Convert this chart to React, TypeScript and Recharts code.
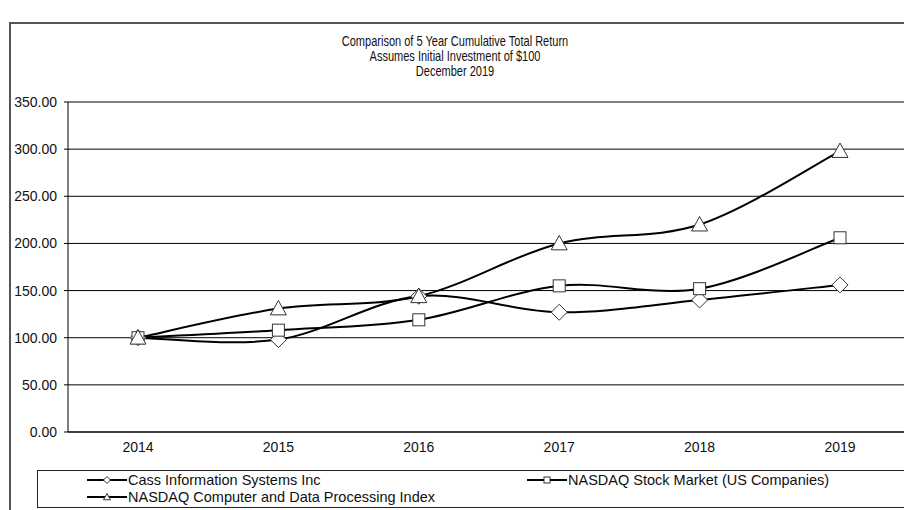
import React from 'react'
import { LineChart, Line, XAxis, YAxis, CartesianGrid } from 'recharts'

const years = ['2014', '2015', '2016', '2017', '2018', '2019']
const cass = [100, 98, 144, 127, 140, 156]
const nasdaqMarket = [100, 108, 119, 155, 152, 206]
const nasdaqComputer = [100, 131, 144, 200, 220, 298]
const seriesNames = [
  'Cass Information Systems Inc',
  'NASDAQ Stock Market (US Companies)',
  'NASDAQ Computer and Data Processing Index',
]
const yTicks = [0, 50, 100, 150, 200, 250, 300, 350]
const titleLines = [
  'Comparison of 5 Year Cumulative Total Return',
  'Assumes Initial Investment of $100',
  'December 2019',
]

const data = years.map((year, i) => ({
  year,
  cass: cass[i],
  market: nasdaqMarket[i],
  computer: nasdaqComputer[i],
}))

const FONT = '"Liberation Sans", Arial, sans-serif'

// excel-like smooth line (catmull-rom as bezier)
function smoothCurve(context: any) {
  let pts: number[][] = []
  return {
    areaStart() {},
    areaEnd() {},
    lineStart() {
      pts = []
    },
    point(x: number, y: number) {
      pts.push([+x, +y])
    },
    lineEnd() {
      if (!pts.length) return
      context.moveTo(pts[0][0], pts[0][1])
      for (let i = 0; i < pts.length - 1; i++) {
        const p0 = pts[i - 1] || pts[i]
        const p1 = pts[i]
        const p2 = pts[i + 1]
        const p3 = pts[i + 2] || p2
        context.bezierCurveTo(
          p1[0] + (p2[0] - p0[0]) / 6,
          p1[1] + (p2[1] - p0[1]) / 6,
          p2[0] - (p3[0] - p1[0]) / 6,
          p2[1] - (p3[1] - p1[1]) / 6,
          p2[0],
          p2[1]
        )
      }
    },
  }
}

const Diamond = ({ cx, cy, r = 8 }: any) => (
  <path
    d={`M${cx},${cy - r}L${cx + r},${cy}L${cx},${cy + r}L${cx - r},${cy}Z`}
    fill="#fff"
    stroke="#333"
    strokeWidth={1}
  />
)

const Square = ({ cx, cy, r = 6 }: any) => (
  <rect x={cx - r} y={cy - r} width={r * 2} height={r * 2} fill="#fff" stroke="#333" strokeWidth={1} />
)

const Triangle = ({ cx, cy, r = 8 }: any) => (
  <path
    d={`M${cx},${cy - r}L${cx + r},${cy + r * 0.8}L${cx - r},${cy + r * 0.8}Z`}
    fill="#fff"
    stroke="#333"
    strokeWidth={1}
  />
)

const LegendIcon = ({ shape }: { shape: string }) => (
  <svg width={40} height={12} style={{ display: 'block' }}>
    <line x1={0} y1={6} x2={40} y2={6} stroke="#000" strokeWidth={2} />
    {shape === 'diamond' && <Diamond cx={20} cy={6} r={3.5} />}
    {shape === 'square' && <Square cx={20} cy={6} r={3} />}
    {shape === 'triangle' && <Triangle cx={20} cy={6} r={3.5} />}
  </svg>
)

const legendItem = (name: string, shape: string, left: number, top: number) => (
  <div
    key={name}
    style={{ position: 'absolute', left, top, display: 'flex', alignItems: 'center', gap: 1, whiteSpace: 'nowrap' }}
  >
    <LegendIcon shape={shape} />
    <span>{name}</span>
  </div>
)

export default function App() {
  return (
    <div
      style={{
        position: 'absolute',
        left: 0,
        top: 0,
        width: 904,
        height: 510,
        overflow: 'hidden',
        background: '#fff',
        fontFamily: FONT,
        color: '#111',
      }}
    >
      <div
        style={{
          position: 'absolute',
          left: 9,
          top: 22,
          width: 1000,
          height: 600,
          border: '2px solid #555',
        }}
      />
      {/* title font is condensed in the original, so squeeze it a bit */}
      <div
        style={{
          position: 'absolute',
          left: 0,
          top: 34,
          width: 910,
          textAlign: 'center',
          fontSize: 14.5,
          lineHeight: '15px',
          transform: 'scaleX(0.76)',
          transformOrigin: '455px 0',
        }}
      >
        {titleLines.map((t) => (
          <div key={t}>{t}</div>
        ))}
      </div>
      <div style={{ position: 'absolute', left: 0, top: 0 }}>
        <LineChart width={930} height={470} data={data} margin={{ top: 102, right: 20, bottom: 0, left: 0 }}>
          <CartesianGrid vertical={false} stroke="#000" strokeWidth={1} />
          <XAxis
            dataKey="year"
            padding={{ left: 70, right: 70 }}
            height={38}
            tickLine={false}
            tickSize={0}
            tickMargin={10}
            axisLine={{ stroke: '#000' }}
            tick={{ fill: '#111', fontSize: 14, fontFamily: FONT }}
          />
          <YAxis
            width={68}
            domain={[0, 350]}
            ticks={yTicks}
            interval={0}
            tickFormatter={(v: number) => v.toFixed(2)}
            tickSize={4}
            tickMargin={7}
            axisLine={{ stroke: '#000' }}
            tickLine={{ stroke: '#000' }}
            tick={{ fill: '#111', fontSize: 14, fontFamily: FONT }}
          />
          <Line
            dataKey="cass"
            type={smoothCurve as any}
            stroke="#000"
            strokeWidth={2}
            dot={(p: any) => <Diamond key={`d${p.index}`} cx={p.cx} cy={p.cy} />}
            activeDot={false}
            isAnimationActive={false}
          />
          <Line
            dataKey="market"
            type={smoothCurve as any}
            stroke="#000"
            strokeWidth={2}
            dot={(p: any) => <Square key={`s${p.index}`} cx={p.cx} cy={p.cy} />}
            activeDot={false}
            isAnimationActive={false}
          />
          <Line
            dataKey="computer"
            type={smoothCurve as any}
            stroke="#000"
            strokeWidth={2}
            dot={(p: any) => <Triangle key={`t${p.index}`} cx={p.cx} cy={p.cy} />}
            activeDot={false}
            isAnimationActive={false}
          />
        </LineChart>
      </div>
      <div
        style={{
          position: 'absolute',
          left: 37,
          top: 470,
          width: 1000,
          height: 36,
          border: '1px solid #222',
          fontSize: 14.5,
        }}
      >
        {legendItem(seriesNames[0], 'diamond', 49, 1)}
        {legendItem(seriesNames[1], 'square', 489, 1)}
        {legendItem(seriesNames[2], 'triangle', 49, 18)}
      </div>
    </div>
  )
}
